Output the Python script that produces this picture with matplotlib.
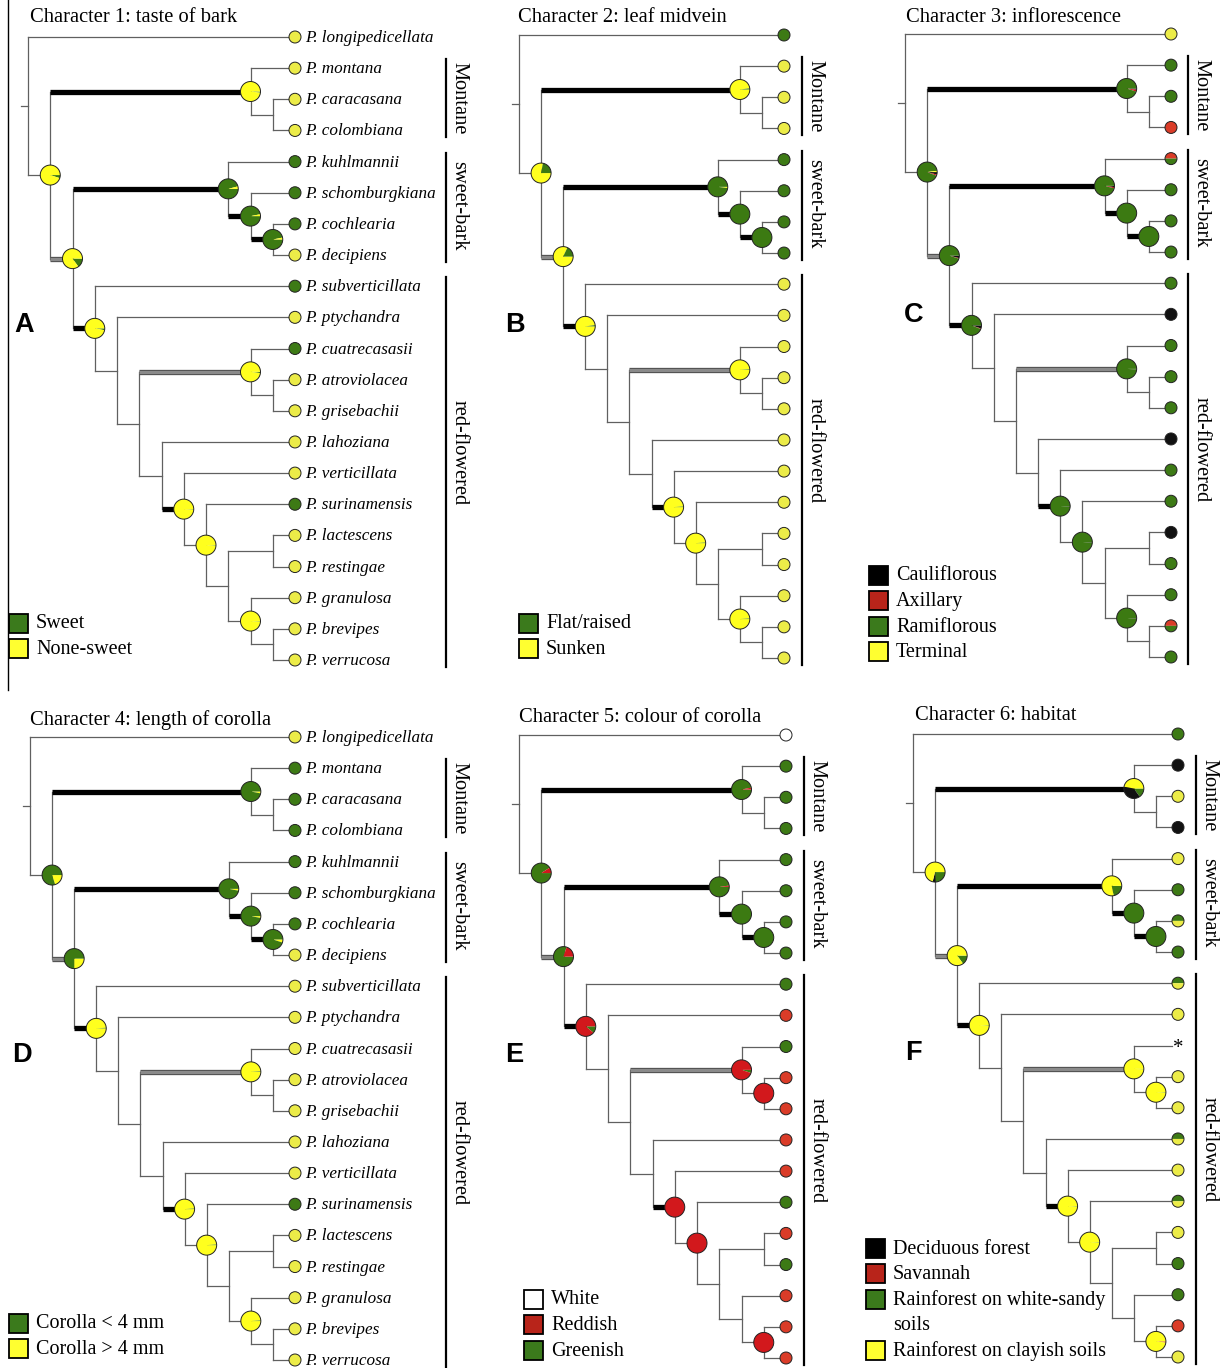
import matplotlib
matplotlib.use('Agg')
import matplotlib.pyplot as plt
from matplotlib.patches import Wedge, Circle, Rectangle


# ---- data ----
TAXA = ['longipedicellata', 'montana', 'caracasana', 'colombiana', 'kuhlmannii',
        'schomburgkiana', 'cochlearia', 'decipiens', 'subverticillata', 'ptychandra',
        'cuatrecasasii', 'atroviolacea', 'grisebachii', 'lahoziana', 'verticillata',
        'surinamensis', 'lactescens', 'restingae', 'granulosa', 'brevipes', 'verrucosa']

# tree topology, ints are tip indices into TAXA
CHILDREN = {
    'root': [0, 'N1'], 'N1': ['MON', 'N2'], 'MON': [1, 'MC'], 'MC': [2, 3],
    'N2': ['SB1', 'N3'], 'SB1': [4, 'SB2'], 'SB2': [5, 'SB3'], 'SB3': [6, 7],
    'N3': [8, 'N4'], 'N4': [9, 'N5'], 'N5': ['CU', 'N6'], 'CU': [10, 'AG'],
    'AG': [11, 12], 'N6': [13, 'N7'], 'N7': [14, 'N8'], 'N8': [15, 'N9'],
    'N9': ['LR', 'GR'], 'LR': [16, 17], 'GR': [18, 'BV'], 'BV': [19, 20],
}
DEPTH = {'root': 0, 'N1': 1, 'N2': 2, 'N3': 3, 'N4': 4, 'N5': 5, 'N6': 6, 'N7': 7,
         'N8': 8, 'N9': 9, 'SB1': 9, 'MON': 10, 'SB2': 10, 'CU': 10, 'GR': 10,
         'MC': 11, 'SB3': 11, 'AG': 11, 'LR': 11, 'BV': 11}
TIP_DEPTH = 12
THICK_BLACK = ['MON', 'SB1', 'SB2', 'SB3', 'N3', 'N7']
THICK_GREY = ['N2', 'CU']
CLADES = [('Montane', 1, 3), ('sweet-bark', 4, 7), ('red-flowered', 8, 20)]

TITLES = ['Character 1: taste of bark', 'Character 2: leaf midvein',
          'Character 3: inflorescence', 'Character 4: length of corolla',
          'Character 5: colour of corolla', 'Character 6: habitat']
LETTERS = ['A', 'B', 'C', 'D', 'E', 'F']

LEGEND_A = [('G', 'Sweet'), ('Y', 'None-sweet')]
LEGEND_B = [('G', 'Flat/raised'), ('Y', 'Sunken')]
LEGEND_C = [('K', 'Cauliflorous'), ('R', 'Axillary'), ('G', 'Ramiflorous'), ('Y', 'Terminal')]
LEGEND_D = [('G', 'Corolla < 4 mm'), ('Y', 'Corolla > 4 mm')]
LEGEND_E = [('W', 'White'), ('R', 'Reddish'), ('G', 'Greenish')]
LEGEND_F = [('K', 'Deciduous forest'), ('R', 'Savannah'),
            ('G', 'Rainforest on white-sandy\nsoils'), ('Y', 'Rainforest on clayish soils')]

# tip states, two letters = polymorphic (top / bottom), '*' = missing
TIPS_A = ['Y', 'Y', 'Y', 'Y', 'G', 'G', 'G', 'Y', 'G', 'Y', 'G', 'Y', 'Y', 'Y', 'Y', 'G', 'Y', 'Y', 'Y', 'Y', 'Y']
TIPS_B = ['G', 'Y', 'Y', 'Y', 'G', 'G', 'G', 'G', 'Y', 'Y', 'Y', 'Y', 'Y', 'Y', 'Y', 'Y', 'Y', 'Y', 'Y', 'Y', 'Y']
TIPS_C = ['Y', 'G', 'G', 'R', 'RG', 'G', 'G', 'G', 'G', 'K', 'G', 'G', 'G', 'K', 'G', 'G', 'K', 'G', 'G', 'RG', 'G']
TIPS_D = ['Y', 'G', 'G', 'G', 'G', 'G', 'G', 'Y', 'Y', 'Y', 'Y', 'Y', 'Y', 'Y', 'Y', 'G', 'Y', 'Y', 'Y', 'Y', 'Y']
TIPS_E = ['W', 'G', 'G', 'G', 'G', 'G', 'G', 'G', 'G', 'R', 'G', 'R', 'R', 'R', 'R', 'G', 'R', 'G', 'R', 'R', 'R']
TIPS_F = ['G', 'K', 'Y', 'K', 'Y', 'G', 'GY', 'G', 'GY', 'Y', '*', 'Y', 'Y', 'GY', 'Y', 'GY', 'Y', 'G', 'G', 'R', 'Y']

# ancestral state pies, slices drawn clockwise from 3 o'clock in this state order
ORDER_A = ['G', 'Y']
PIES_A = {'N1': [0.05, 0.95], 'MON': [0.02, 0.98], 'N2': [0.15, 0.85], 'SB1': [0.96, 0.04],
          'SB2': [0.97, 0.03], 'SB3': [0.97, 0.03], 'N3': [0.03, 0.97], 'CU': [0.02, 0.98],
          'N7': [0.01, 0.99], 'N8': [0.01, 0.99], 'GR': [0.01, 0.99]}
ORDER_B = ['Y', 'G']
PIES_B = {'N1': [0.78, 0.22], 'MON': [0.98, 0.02], 'N2': [0.82, 0.18], 'SB1': [0.02, 0.98],
          'SB2': [0.0, 1.0], 'SB3': [0.0, 1.0], 'N3': [0.98, 0.02], 'CU': [0.99, 0.01],
          'N7': [0.99, 0.01], 'N8': [0.99, 0.01], 'GR': [0.99, 0.01]}
ORDER_C = ['K', 'R', 'G', 'Y']
PIES_C = {'N1': [0.04, 0.02, 0.92, 0.02], 'MON': [0.02, 0.03, 0.95, 0.0],
          'N2': [0.04, 0.01, 0.95, 0.0], 'SB1': [0.02, 0.02, 0.96, 0.0],
          'SB2': [0.0, 0.0, 1.0, 0.0], 'SB3': [0.0, 0.0, 1.0, 0.0],
          'N3': [0.05, 0.01, 0.94, 0.0], 'CU': [0.01, 0.0, 0.99, 0.0],
          'N7': [0.01, 0.0, 0.99, 0.0], 'N8': [0.01, 0.0, 0.99, 0.0], 'GR': [0.01, 0.0, 0.99, 0.0]}
ORDER_D = ['Y', 'G']
PIES_D = {'N1': [0.2, 0.8], 'MON': [0.03, 0.97], 'N2': [0.25, 0.75], 'SB1': [0.03, 0.97],
          'SB2': [0.03, 0.97], 'SB3': [0.05, 0.95], 'N3': [0.99, 0.01], 'CU': [0.99, 0.01],
          'N7': [0.99, 0.01], 'N8': [0.99, 0.01], 'GR': [0.99, 0.01]}
ORDER_E = ['G', 'R']
PIES_E = {'N1': [0.91, 0.09], 'MON': [0.97, 0.03], 'N2': [0.8, 0.2], 'SB1': [0.98, 0.02],
          'SB2': [1.0, 0.0], 'SB3': [1.0, 0.0], 'N3': [0.11, 0.89], 'CU': [0.05, 0.95],
          'AG': [0.0, 1.0], 'N7': [0.0, 1.0], 'N8': [0.0, 1.0], 'BV': [0.0, 1.0]}
ORDER_F = ['G', 'K', 'R', 'Y']
PIES_F = {'N1': [0.24, 0.05, 0.0, 0.71], 'MON': [0.15, 0.38, 0.0, 0.47],
          'N2': [0.15, 0.0, 0.0, 0.85], 'SB1': [0.22, 0.0, 0.0, 0.78],
          'SB2': [1.0, 0.0, 0.0, 0.0], 'SB3': [1.0, 0.0, 0.0, 0.0],
          'N3': [0.01, 0.0, 0.0, 0.99], 'CU': [0.01, 0.0, 0.0, 0.99],
          'AG': [0.01, 0.0, 0.0, 0.99], 'N7': [0.01, 0.0, 0.0, 0.99],
          'N8': [0.01, 0.0, 0.0, 0.99], 'BV': [0.0, 0.0, 0.02, 0.98]}

# ---- styles ----
NODE_COL = {'G': '#3c7a12', 'Y': '#ffff1e', 'R': '#d2181c', 'K': '#111111', 'W': '#ffffff'}
TIP_COL = {'G': '#3d7a15', 'Y': '#ecec48', 'R': '#da3c28', 'K': '#111111', 'W': '#ffffff'}
LEG_COL = {'G': '#3b7a1c', 'Y': '#ffff30', 'R': '#b8241a', 'K': '#000000', 'W': '#ffffff'}
LINE = '#606060'
SERIF = 'Liberation Serif'
SANS = 'Liberation Sans'

# panel placement in pixels
LAYOUT = [
    dict(x0=28, x1=295, y0=37, bar=446, title=(30, 17), letter=(24, 325), leg=(9, 623)),
    dict(x0=519, x1=784, y0=35, bar=802, title=(518, 17), letter=(515, 325), leg=(519, 623)),
    dict(x0=905, x1=1171, y0=34, bar=1188, title=(906, 18), letter=(914, 315), leg=(869, 575)),
    dict(x0=30, x1=295, y0=737, bar=446, title=(30, 720), letter=(22, 1055), leg=(9, 1323)),
    dict(x0=519, x1=786, y0=735, bar=804, title=(519, 718), letter=(514, 1055), leg=(524, 1299)),
    dict(x0=913, x1=1178, y0=734, bar=1196, title=(915, 716), letter=(913, 1053), leg=(866, 1248)),
]
LABEL_SHIFT = {'Montane': 0, 'sweet-bark': -2, 'red-flowered': -20}
DY = 31.15
PIE_R = 10
TIP_R = 6
LEG_STEP = 25.5


def layout_tree(lay):
    step = (lay['x1'] - lay['x0']) / TIP_DEPTH
    pos = dict()

    def place(n):
        if isinstance(n, int):
            pos[n] = (lay['x1'], lay['y0'] + n * DY)
            return pos[n][1]
        ys = [place(c) for c in CHILDREN[n]]
        pos[n] = (lay['x0'] + DEPTH[n] * step, (ys[0] + ys[-1]) / 2)
        return pos[n][1]

    place('root')
    return pos


def draw_pie(ax, x, y, fracs, order):
    start = 0.0
    for f, s in zip(fracs, order):
        if f <= 0:
            continue
        # y axis is inverted, so increasing angle runs clockwise on screen
        ax.add_patch(Wedge((x, y), PIE_R, start * 360, (start + f) * 360,
                           facecolor=NODE_COL[s], edgecolor='none', zorder=4))
        start += f
    ax.add_patch(Circle((x, y), PIE_R, facecolor='none', edgecolor='#222222', lw=0.7, zorder=5))


def draw_tip(ax, x, y, state):
    if state == '*':
        ax.text(x, y + 3, '*', ha='center', va='center', fontsize=15,
                family=SERIF, zorder=5)
        return
    if len(state) == 2:
        ax.add_patch(Wedge((x, y), TIP_R, 180, 360, facecolor=TIP_COL[state[0]],
                           edgecolor='none', zorder=4))
        ax.add_patch(Wedge((x, y), TIP_R, 0, 180, facecolor=TIP_COL[state[1]],
                           edgecolor='none', zorder=4))
        ax.add_patch(Circle((x, y), TIP_R, facecolor='none', edgecolor='#222222',
                            lw=0.7, zorder=5))
    else:
        ax.add_patch(Circle((x, y), TIP_R, facecolor=TIP_COL[state],
                            edgecolor='#222222', lw=0.7, zorder=5))


def draw_panel(ax, i, tips, order, pies, legend, names):
    lay = LAYOUT[i]
    pos = layout_tree(lay)

    # branches
    for n, kids in CHILDREN.items():
        xn, yn = pos[n]
        ys = [pos[k][1] for k in kids]
        ax.plot([xn, xn], [min(ys), max(ys)], color=LINE, lw=0.9, zorder=1)
        for k in kids:
            xk, yk = pos[k]
            end = xk - TIP_R if isinstance(k, int) else xk
            if k in THICK_BLACK:
                ax.plot([xn, end], [yk, yk], color='black', lw=3.8,
                        solid_capstyle='butt', zorder=2)
            elif k in THICK_GREY:
                ax.plot([xn, end], [yk, yk], color='#4a4a4a', lw=3.8,
                        solid_capstyle='butt', zorder=2)
                ax.plot([xn, end], [yk, yk], color='#8a8a8a', lw=2.4,
                        solid_capstyle='butt', zorder=2)
            else:
                ax.plot([xn, end], [yk, yk], color=LINE, lw=0.9, zorder=1)
    xr, yr = pos['root']
    ax.plot([xr - 7, xr], [yr, yr], color=LINE, lw=0.9)

    for n, fr in pies.items():
        draw_pie(ax, pos[n][0], pos[n][1], fr, order)

    for t, s in enumerate(tips):
        draw_tip(ax, pos[t][0], pos[t][1], s)
        if names:
            ax.text(pos[t][0] + 10, pos[t][1] + 1, 'P. ' + TAXA[t], ha='left',
                    va='center', fontsize=12.3, style='italic', family=SERIF)

    # clade bars
    for label, a, b in CLADES:
        ya, yb = pos[a][1] - 9, pos[b][1] + 7
        ax.plot([lay['bar'], lay['bar']], [ya, yb], color='black', lw=1.6)
        ax.text(lay['bar'] + 13, (ya + yb) / 2 + LABEL_SHIFT[label], label, rotation=-90,
                ha='center', va='center', fontsize=14.7, family=SERIF)

    ax.text(lay['title'][0], lay['title'][1], TITLES[i], ha='left', va='center',
            fontsize=14.8, family=SERIF)
    ax.text(lay['letter'][0], lay['letter'][1], LETTERS[i], ha='center', va='center',
            fontsize=19.5, fontweight='bold', family=SANS)

    # legend
    lx, ly = lay['leg']
    row = 0
    for s, label in legend:
        y = ly + row * LEG_STEP
        ax.add_patch(Rectangle((lx, y - 9.5), 19, 19, facecolor=LEG_COL[s],
                               edgecolor='black', lw=1.3, zorder=5))
        for j, line in enumerate(label.split('\n')):
            ax.text(lx + 27, y + j * LEG_STEP + 1, line, ha='left', va='center',
                    fontsize=14.5, family=SERIF)
        row += len(label.split('\n'))


def main():
    fig = plt.figure(figsize=(12.2, 13.68), dpi=100)
    ax = fig.add_axes([0, 0, 1, 1])
    ax.set_xlim(0, 1220)
    ax.set_ylim(1368, 0)
    ax.axis('off')

    draw_panel(ax, 0, TIPS_A, ORDER_A, PIES_A, LEGEND_A, True)
    draw_panel(ax, 1, TIPS_B, ORDER_B, PIES_B, LEGEND_B, False)
    draw_panel(ax, 2, TIPS_C, ORDER_C, PIES_C, LEGEND_C, False)
    draw_panel(ax, 3, TIPS_D, ORDER_D, PIES_D, LEGEND_D, True)
    draw_panel(ax, 4, TIPS_E, ORDER_E, PIES_E, LEGEND_E, False)
    draw_panel(ax, 5, TIPS_F, ORDER_F, PIES_F, LEGEND_F, False)

    # frame line left of panel A
    ax.plot([8, 8], [0, 690], color='black', lw=1.0)

    fig.savefig('out.png', dpi=100)


if __name__ == "__main__":
    main()
